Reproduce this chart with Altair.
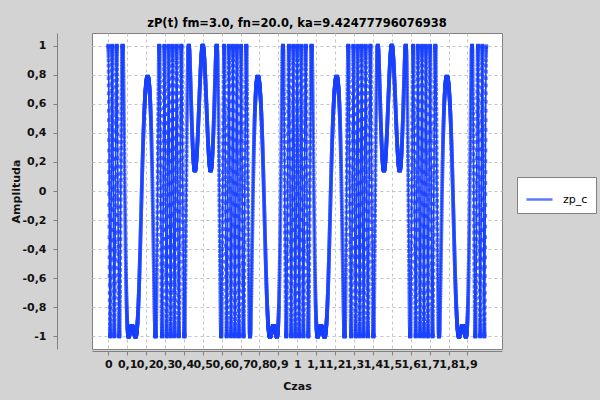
import numpy as np
import pandas as pd
import altair as alt

# parameters
fm = 3.0
fn = 20.0
ka = 9.42477796076938
fs = 4000.0
t_start, t_end = 0.0, 2.0
series_name = "zp_c"

x_ticks = [round(0.1 * i, 1) for i in range(20)]
y_ticks = [round(-1 + 0.2 * i, 1) for i in range(11)]

t = np.arange(t_start, t_end, 1.0 / fs)
zp = np.cos(2 * np.pi * fn * t + ka * np.sin(2 * np.pi * fm * t))
df = pd.DataFrame({"t": t, "zp": zp, "s": series_name})

blue = "#1a42ff"
lab_expr = "replace(replace(datum.label, '.', ','), '\u2212', '-')"

x_enc = alt.X(
    "t:Q",
    scale=alt.Scale(domain=[-0.086, 2.083], nice=False, zero=False),
    axis=alt.Axis(
        title="Czas", values=x_ticks, format="~g", labelExpr=lab_expr,
        offset=2, tickSize=4, labelPadding=3, titlePadding=11,
        labelOverlap=False, labelFlush=False,
    ),
)
y_enc = alt.Y(
    "zp:Q",
    scale=alt.Scale(domain=[-1.086, 1.087], nice=False, zero=False),
    axis=alt.Axis(
        title="Amplituda", values=y_ticks, format="~g", labelExpr=lab_expr,
        offset=35, tickSize=4, labelPadding=7, titlePadding=0,
        labelOverlap=False, labelFlush=False,
    ),
)
color_enc = alt.Color(
    "s:N",
    scale=alt.Scale(domain=[series_name], range=[blue]),
    legend=alt.Legend(
        title=None, orient="none", legendX=425, legendY=144,
        fillColor="white", strokeColor="#808080", padding=8,
        symbolType="stroke", symbolStrokeWidth=2.5, symbolSize=680,
        labelFont="DejaVu Sans", labelFontSize=11, labelColor="black",
        labelOffset=9,
    ),
)

base = alt.Chart(df).encode(x=x_enc, y=y_enc, color=color_enc)
line = base.mark_line(strokeWidth=1.6, clip=True)
pts = base.mark_point(shape="square", filled=True, size=14, opacity=0.7, clip=True)

chart = (
    alt.layer(line, pts)
    .properties(
        width=410, height=316,
        autosize=alt.AutoSizeParams(type="none"),
        padding={"left": 92, "top": 33, "right": 98, "bottom": 51},
        background="#d3d3d3",
        title=alt.TitleParams(
            "zP(t) fm=3.0, fn=20.0, ka=9.42477796076938",
            font="DejaVu Sans", fontSize=11.5, fontWeight="bold",
            anchor="middle", offset=4, color="black",
        ),
    )
    .configure_view(fill="white", stroke="#808080")
    .configure_axis(
        labelFont="DejaVu Sans", labelFontSize=11, labelFontWeight="bold",
        labelColor="#111111", titleFont="DejaVu Sans", titleFontSize=11,
        titleFontWeight="bold", titleColor="#111111",
        domainColor="#808080", tickColor="#808080",
        gridColor="#c4c4c4", gridDash=[3, 3], grid=True,
    )
)

chart.save("out.html", embed_options={"renderer": "svg", "actions": False})
